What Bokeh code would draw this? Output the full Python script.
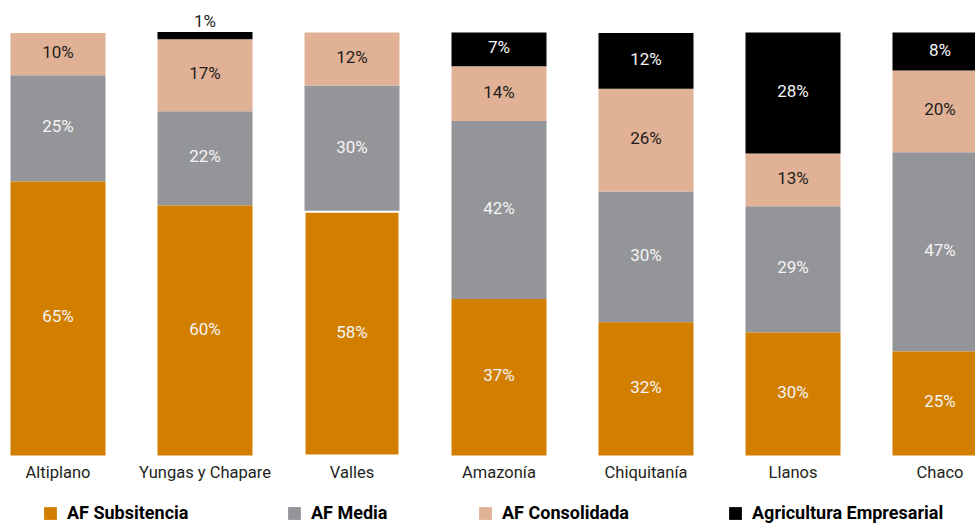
from bokeh.plotting import figure
from bokeh.models import ColumnDataSource, Range1d, Legend, LegendItem
from bokeh.core.properties import value
from bokeh.embed import file_html
from bokeh.resources import INLINE

# ---- data ----
categories = ["Altiplano", "Yungas y Chapare", "Valles", "Amazonía",
              "Chiquitanía", "Llanos", "Chaco"]
series_names = ["AF Subsitencia", "AF Media", "AF Consolidada", "Agricultura Empresarial"]

# shares (%)
af_subsistencia = [64.8, 59.1, 57.6, 37.0, 31.5, 29.1, 24.6]
af_media = [25.1, 22.3, 29.9, 42.1, 30.9, 29.8, 47.1]
af_consolidada = [10.0, 17.0, 12.5, 12.9, 24.3, 12.5, 19.3]
agri_empresarial = [0.0, 1.7, 0.0, 8.0, 13.2, 28.6, 9.0]

# printed labels
lab_subsistencia = ["65%", "60%", "58%", "37%", "32%", "30%", "25%"]
lab_media = ["25%", "22%", "30%", "42%", "30%", "29%", "47%"]
lab_consolidada = ["10%", "17%", "12%", "14%", "26%", "13%", "20%"]
lab_empresarial = ["", "1%", "", "7%", "12%", "28%", "8%"]

colors = ["#D27F00", "#949599", "#E1B196", "#000000"]
label_colors = ["#F4F4F4", "#F4F4F4", "#231F20", "#F4F4F4"]

FONT = "Roboto"

W, H = 975, 526
x_per_px = 1 / 147.0
y_per_px = 100 / 423.0
x0 = -57.5 * x_per_px
y0 = -(H - 455) * y_per_px

p = figure(width=W, height=H, output_backend="svg", toolbar_location=None,
           x_axis_type=None, y_axis_type=None,
           x_range=Range1d(x0, x0 + W * x_per_px),
           y_range=Range1d(y0, y0 + H * y_per_px),
           min_border=0, outline_line_color=None)
p.grid.visible = False
p.background_fill_color = "white"
p.border_fill_color = "white"

xs = list(range(len(categories)))
series = [af_subsistencia, af_media, af_consolidada, agri_empresarial]
labels = [lab_subsistencia, lab_media, lab_consolidada, lab_empresarial]

bottoms = [0.0] * len(categories)
renderers = []
label_x, label_y, label_t, label_c, label_off = [], [], [], [], []
for k, (vals, labs) in enumerate(zip(series, labels)):
    tops = [b + v for b, v in zip(bottoms, vals)]
    src = ColumnDataSource(dict(x=xs, bottom=bottoms, top=tops,
                                lalpha=[1 if c == "Valles" else 0 for c in categories]))
    if k == 0:
        r = p.vbar(x="x", bottom="bottom", top="top", width=95 * x_per_px, source=src,
                   fill_color=colors[k], line_color="white", line_width=2,
                   line_alpha="lalpha", level="overlay")
    else:
        r = p.vbar(x="x", bottom="bottom", top="top", width=95 * x_per_px, source=src,
                   fill_color=colors[k], line_color=None)
    renderers.append(r)
    for i in xs:
        if not labs[i]:
            continue
        if vals[i] < 3:
            label_x.append(i); label_y.append(tops[i]); label_t.append(labs[i])
            label_c.append("#231F20"); label_off.append(-11)
        else:
            label_x.append(i); label_y.append((bottoms[i] + tops[i]) / 2)
            label_t.append(labs[i]); label_c.append(label_colors[k]); label_off.append(-2)
    bottoms = tops

lsrc = ColumnDataSource(dict(x=label_x, y=label_y, t=label_t, c=label_c, off=label_off))
p.text(x="x", y="y", text="t", text_color="c", y_offset="off", source=lsrc,
       text_align="center", text_baseline="middle", text_font=value(FONT),
       text_font_size="17px", level="overlay")

csrc = ColumnDataSource(dict(x=xs, y=[0] * len(xs), t=categories))
p.text(x="x", y="y", text="t", source=csrc, y_offset=17,
       text_align="center", text_baseline="middle", text_font=value(FONT),
       text_font_size="16.5px", text_color="#231F20")

# legends, one per item
leg_x = [42, 286, 477, 727]
for k in range(4):
    leg = Legend(items=[LegendItem(label=series_names[k], renderers=[renderers[k]])],
                 location=(leg_x[k], 3), orientation="horizontal",
                 padding=0, margin=0, spacing=0,
                 glyph_width=16, glyph_height=16, label_standoff=9,
                 label_height=20, label_text_font=FONT, label_text_font_size="18px",
                 label_text_font_style="bold", label_text_color="#000000",
                 background_fill_alpha=0, border_line_color=None)
    p.add_layout(leg, "center")

open("out.html", "w").write(file_html(p, INLINE))
